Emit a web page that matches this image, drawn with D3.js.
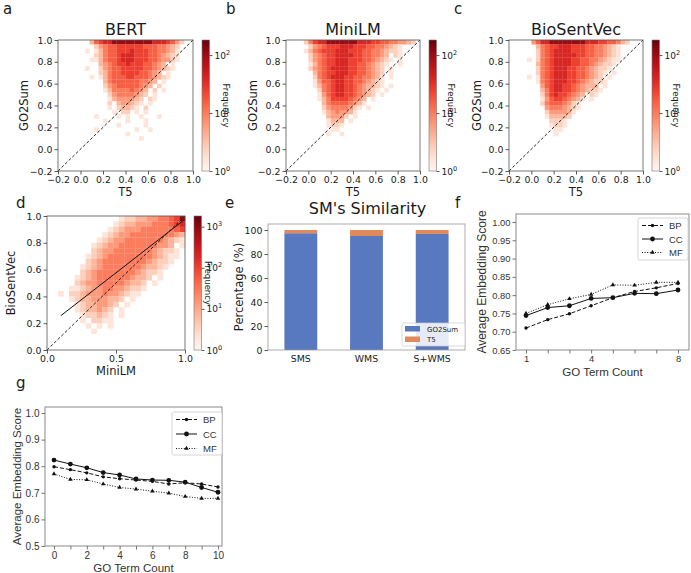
<!DOCTYPE html>
<html>
<head>
<meta charset="utf-8">
<script src="https://cdn.jsdelivr.net/npm/d3@7"></script>
<style>
  body { margin: 0; background: #fff; }
  text { font-family: "DejaVu Sans", sans-serif; fill: #1a1a1a; }
  .arial text, text.arial { font-family: "Liberation Sans", Arial, sans-serif; fill: #333; }
</style>
</head>
<body>
<svg id="fig" width="691" height="573"></svg>
<script>
// ---- data ----
// 2D histogram levels (0-9, log scale of count), rows from top (y=1.0) down, bins of 0.04
const bertRows = [
  ".......367889999999998887642..",
  "........2456677777766655432...",
  "......1.1356677787776655431...",
  "........2356678887776654321...",
  ".......11356678887776654421...",
  ".........345677877766543.1....",
  "......1..24566777776654321....",
  ".........23566777766543.1.....",
  ".......1.1356667766654321.....",
  "..........356666665543.1......",
  "..........24566666543.2.......",
  "..........1355556543.2.1......",
  "...........245555432.1........",
  "...........13444432.21........",
  "...........2.344321.1.........",
  "...........1.23321.2..........",
  "............1.22.1.1..........",
  "........1....1.1..1...1.......",
  "..........1....1...1..........",
  ".............1.....1..........",
  "........1........1..1.........",
  "...............1..............",
  "..................1..........."
];
const miniRows = [
  "....2578899999998887766554432.",
  ".....245677788877766554321....",
  "....1356777888777665543221....",
  ".....245677888877665543.21....",
  ".....2456778887776654321.1....",
  ".....135677888776654321..1....",
  ".....24567888877665432.1......",
  "......3567788877665432.1......",
  "......2567888776655431.1......",
  "......1466788776654321........",
  "......1356788776543321.1......",
  ".......25678877654321.1.......",
  ".......1467887765432.1........",
  ".......13577776543.1..........",
  "........3566665431............",
  "........245555421.1...........",
  "........13454431..............",
  ".........34442.1..............",
  ".........1333.1...............",
  ".........1221.................",
  "..........11..................",
  ".........1..1................."
];
const bioRows = [
  ".....4688999999998887766532...",
  "......3567788877766554321.....",
  "......2567888877766554321.....",
  "......2567888887766554321.....",
  "....1.2567888877665543211.....",
  "......356788887766543221......",
  "......25678887766543221.......",
  "......2567888776654321.1......",
  "....1.156788877665432.1.......",
  "......1567888776543221........",
  ".......4678877654333.1........",
  ".......35788776543221.........",
  ".......2578776543.21..........",
  ".......1467765431.1...........",
  ".......256665421..............",
  "........45554321..............",
  "........2444431...............",
  "........133332................",
  ".........2221.................",
  ".........1221.................",
  "..........11..................",
  "..........1..................."
];
const simRows = [
  ".............122334455679",
  "............1233444555678",
  "...........12344455555567",
  "..........123445555555543",
  ".........1234455555554321",
  "........123445555555443.1",
  "........2344555555543221.",
  ".......12345555555543211.",
  ".......2345555555543221..",
  "......1234555555543321...",
  "......234555555543221....",
  ".....12345555554332.1....",
  ".....2344555554332.1.....",
  "....11234455443221.......",
  "..1.2234445443211........",
  "....1233444332.1.........",
  ".....12334432.1..........",
  ".....1233432.1...........",
  "......122321.1...........",
  "......1.2211.............",
  ".......1.1.1.............",
  "........1................"
];
const heatTicks = [-0.2, 0.0, 0.2, 0.4, 0.6, 0.8, 1.0];
const simTicksX = [0.0, 0.5, 1.0];
const simTicksY = [0.0, 0.2, 0.4, 0.6, 0.8, 1.0];
const diagAC = [-0.2, 1.0];
const diagD = [0.0, 1.0];
const regX = [0.10, 1.00];
const regY = [0.256, 0.976];

const smCats = ["SMS", "WMS", "S+WMS"];
const go2sumPct = [97.3, 95.0, 96.7];
const t5Pct = [2.7, 5.0, 3.3];
const pctTicks = [0, 20, 40, 60, 80, 100];

const fCount = [1, 2, 3, 4, 5, 6, 7, 8];
const fBP = [0.710, 0.733, 0.749, 0.771, 0.793, 0.810, 0.820, 0.832];
const fCC = [0.744, 0.766, 0.771, 0.791, 0.793, 0.805, 0.804, 0.814];
const fMF = [0.750, 0.774, 0.790, 0.802, 0.828, 0.827, 0.835, 0.835];
const fTicksY = [0.65, 0.70, 0.75, 0.80, 0.85, 0.90, 0.95, 1.00];

const gCount = [0, 1, 2, 3, 4, 5, 6, 7, 8, 9, 10];
const gBP = [0.798, 0.787, 0.775, 0.760, 0.753, 0.748, 0.743, 0.733, 0.738, 0.733, 0.722];
const gCC = [0.823, 0.808, 0.794, 0.776, 0.767, 0.752, 0.748, 0.747, 0.740, 0.720, 0.702];
const gMF = [0.771, 0.750, 0.749, 0.733, 0.720, 0.714, 0.706, 0.699, 0.686, 0.679, 0.679];
const gTicksY = [0.5, 0.6, 0.7, 0.8, 0.9, 1.0];

const svg = d3.select("#fig");
svg.append("rect").attr("width", 691).attr("height", 573).attr("fill", "#fff");

const fmt1 = d3.format(".1f");
// level (1-9) -> position on the Reds colormap
const levelT = v => (v === 9 ? 0.9 : v * 0.088);

function styleAxis(g, size) {
  g.select(".domain").remove();
  g.selectAll("line").attr("stroke", "#333").attr("stroke-width", 0.8);
  g.selectAll("text").attr("font-size", size).attr("font-family", null).attr("fill", null);
  g.attr("font-family", null).attr("font-size", null);
}

function panelLabel(x, y, t) {
  svg.append("text").attr("x", x).attr("y", y).attr("font-size", 15).text(t);
}

// ---- heatmap panels ----
function heatPanel(o) {
  const g = svg.append("g");
  const x = d3.scaleLinear().domain(o.dom).range([o.left, o.right]);
  const y = d3.scaleLinear().domain(o.dom).range([o.bottom, o.top]);
  const cells = [];
  o.rows.forEach((row, j) => {
    [...row].forEach((ch, i) => { if (ch !== ".") cells.push({ i, j, v: +ch }); });
  });
  g.selectAll("rect.cell").data(cells).join("rect")
    .attr("class", "cell")
    .attr("x", d => x(o.dom[0] + d.i * o.bin))
    .attr("y", d => y(o.dom[1] - d.j * o.bin))
    .attr("width", d => x(o.dom[0] + (d.i + 1) * o.bin) - x(o.dom[0] + d.i * o.bin) + 0.2)
    .attr("height", d => y(o.dom[1] - (d.j + 1) * o.bin) - y(o.dom[1] - d.j * o.bin) + 0.2)
    .attr("fill", d => d3.interpolateReds(levelT(d.v)));

  // diagonal reference
  g.append("path")
    .attr("d", d3.line()(o.diag.map(v => [x(v), y(v)])))
    .attr("stroke", "#111").attr("stroke-width", 0.9).attr("stroke-dasharray", "3,2").attr("fill", "none");
  if (o.reg) {
    g.append("path")
      .attr("d", d3.line()(o.reg[0].map((v, k) => [x(v), y(o.reg[1][k])])))
      .attr("stroke", "#111").attr("stroke-width", 1).attr("fill", "none");
  }

  g.append("rect").attr("x", o.left).attr("y", o.top)
    .attr("width", o.right - o.left).attr("height", o.bottom - o.top)
    .attr("fill", "none").attr("stroke", "#555").attr("stroke-width", 0.8);

  const xa = g.append("g").attr("transform", `translate(0,${o.bottom})`)
    .call(d3.axisBottom(x).tickValues(o.xt).tickSize(3.5).tickPadding(1.5).tickFormat(fmt1));
  styleAxis(xa, 9.4);
  const ya = g.append("g").attr("transform", `translate(${o.left},0)`)
    .call(d3.axisLeft(y).tickValues(o.yt).tickSize(3.5).tickPadding(2).tickFormat(fmt1));
  styleAxis(ya, 9.4);

  if (o.title) {
    g.append("text").attr("x", (o.left + o.right) / 2).attr("y", o.top - 5)
      .attr("text-anchor", "middle").attr("font-size", 16).text(o.title);
  }
  g.append("text").attr("x", (o.left + o.right) / 2).attr("y", o.bottom + 25)
    .attr("text-anchor", "middle").attr("font-size", 11.5).text(o.xlabel);
  g.append("text").attr("transform", `translate(${o.ylx},${(o.top + o.bottom) / 2}) rotate(-90)`)
    .attr("text-anchor", "middle").attr("font-size", 11.5).text(o.ylabel);

  // colorbar
  const cbx = o.right + 9, cbw = 7.5;
  const id = "grad" + o.key;
  const grad = svg.append("defs").append("linearGradient").attr("id", id)
    .attr("x1", 0).attr("y1", 1).attr("x2", 0).attr("y2", 0);
  d3.range(0, 1.0001, 0.1).forEach(t => grad.append("stop").attr("offset", t).attr("stop-color", d3.interpolateReds(t)));
  g.append("rect").attr("x", cbx).attr("y", o.top).attr("width", cbw).attr("height", o.bottom - o.top)
    .attr("fill", `url(#${id})`).attr("stroke", "#777").attr("stroke-width", 0.6);
  const cy = d3.scaleLog().domain([1, Math.pow(10, o.vmaxLog)]).range([o.bottom, o.top]);
  const ca = g.append("g").attr("transform", `translate(${cbx + cbw},0)`)
    .call(d3.axisRight(cy).tickValues(o.cbTicks).tickSize(3).tickPadding(2).tickFormat(() => ""));
  styleAxis(ca, 9);
  o.cbTicks.forEach(v => {
    const t = g.append("text").attr("x", cbx + cbw + 5).attr("y", cy(v) + 3.5).attr("font-size", 9).text("10");
    t.append("tspan").attr("dy", -4).attr("font-size", 6.5).text(Math.round(Math.log10(v)));
  });
  g.append("text").attr("transform", `translate(${o.cblx},${(o.top + o.bottom) / 2}) rotate(90)`)
    .attr("text-anchor", "middle").attr("font-size", 8.5).text("Frequency");
}

const acCommon = { dom: [-0.2, 1.0], bin: 0.04, top: 40, bottom: 171, xt: heatTicks, yt: heatTicks,
  diag: diagAC, vmaxLog: 2.26, cbTicks: [1, 10, 100], xlabel: "T5", ylabel: "GO2Sum" };
heatPanel({ ...acCommon, key: "a", rows: bertRows, left: 58, right: 193, title: "BERT", ylx: 28, cblx: 223 });
heatPanel({ ...acCommon, key: "b", rows: miniRows, left: 286, right: 420, title: "MiniLM", ylx: 257, cblx: 448 });
heatPanel({ ...acCommon, key: "c", rows: bioRows, left: 509, right: 643, title: "BioSentVec", ylx: 481, cblx: 673 });
heatPanel({ key: "d", rows: simRows, dom: [0, 1], bin: 0.04, left: 47, right: 185, top: 216, bottom: 350,
  xt: simTicksX, yt: simTicksY, diag: diagD, reg: [regX, regY], vmaxLog: 3.26, cbTicks: [1, 10, 100, 1000],
  xlabel: "MiniLM", ylabel: "BioSentVec", ylx: 15, cblx: 205 });

// ---- panel e: stacked bars ----
(function () {
  const left = 268, right = 465, top = 224, bottom = 350;
  const g = svg.append("g");
  const x = d3.scaleBand().domain(smCats).range([left, right]).paddingInner(0.5).paddingOuter(0.25);
  const y = d3.scaleLinear().domain([0, 105]).range([bottom, top]);
  const blue = "#5878c0", orange = "#e08a5c";
  g.selectAll("rect.go").data(smCats).join("rect")
    .attr("x", d => x(d)).attr("width", x.bandwidth())
    .attr("y", (d, i) => y(go2sumPct[i])).attr("height", (d, i) => y(0) - y(go2sumPct[i]))
    .attr("fill", blue);
  g.selectAll("rect.t5").data(smCats).join("rect")
    .attr("x", d => x(d)).attr("width", x.bandwidth())
    .attr("y", (d, i) => y(go2sumPct[i] + t5Pct[i])).attr("height", (d, i) => y(go2sumPct[i]) - y(go2sumPct[i] + t5Pct[i]))
    .attr("fill", orange);
  g.append("rect").attr("x", left).attr("y", top).attr("width", right - left).attr("height", bottom - top)
    .attr("fill", "none").attr("stroke", "#9a9a9a").attr("stroke-width", 0.8);
  const xa = g.append("g").attr("transform", `translate(0,${bottom})`)
    .call(d3.axisBottom(x).tickSize(0).tickPadding(5));
  styleAxis(xa, 9.4);
  const ya = g.append("g").attr("transform", `translate(${left},0)`)
    .call(d3.axisLeft(y).tickValues(pctTicks).tickSize(3.5).tickPadding(2));
  styleAxis(ya, 9.4);
  g.append("text").attr("x", (left + right) / 2 + 1).attr("y", 214).attr("text-anchor", "middle")
    .attr("font-size", 16).text("SM's Similarity");
  g.append("text").attr("transform", `translate(243,${(top + bottom) / 2}) rotate(-90)`)
    .attr("text-anchor", "middle").attr("font-size", 11.5).text("Percentage (%)");
  // legend
  g.append("rect").attr("x", 402).attr("y", 323).attr("width", 63).attr("height", 23)
    .attr("fill", "#fff").attr("fill-opacity", 0.85).attr("stroke", "#ccc").attr("stroke-width", 0.7).attr("rx", 1.5);
  [["GO2Sum", blue], ["T5", orange]].forEach((e, k) => {
    g.append("rect").attr("x", 405).attr("y", 326 + k * 10.5).attr("width", 15).attr("height", 5.5).attr("fill", e[1]);
    g.append("text").attr("x", 427).attr("y", 331.5 + k * 10.5).attr("font-size", 7).text(e[0]);
  });
})();

// ---- line panels f & g ----
function linePanel(o) {
  const g = svg.append("g").attr("class", "arial");
  const x = d3.scaleLinear().domain(o.xd).range(o.xr);
  const y = d3.scaleLinear().domain(o.yd).range(o.yr);
  g.append("rect").attr("x", o.left).attr("y", o.top).attr("width", o.right - o.left).attr("height", o.bottom - o.top)
    .attr("fill", "none").attr("stroke", "#8a8a8a").attr("stroke-width", 1);
  const xa = g.append("g").attr("transform", `translate(0,${o.bottom})`)
    .call(d3.axisBottom(x).tickValues(o.counts).tickSize(3.5).tickPadding(2)
      .tickFormat(d => o.xLabelled.includes(d) ? d : ""));
  styleAxis(xa, o.tickFont);
  const ya = g.append("g").attr("transform", `translate(${o.left},0)`)
    .call(d3.axisLeft(y).tickValues(o.yt).tickSize(3.5).tickPadding(2).tickFormat(d3.format(o.yfmt)));
  styleAxis(ya, o.tickFont);
  g.selectAll("line").attr("stroke", "#555");

  const series = [
    { name: "BP", vals: o.bp, dash: "4,2", r: 1.7, sym: d3.symbolCircle },
    { name: "CC", vals: o.cc, dash: null, r: 2.4, sym: d3.symbolCircle },
    { name: "MF", vals: o.mf, dash: "1,1.6", r: 1.7, sym: d3.symbolTriangle }
  ];
  const symSize = s => s.sym === d3.symbolTriangle ? 9 : Math.PI * s.r * s.r;
  series.forEach(s => {
    g.append("path").attr("d", d3.line()(o.counts.map((c, k) => [x(c), y(s.vals[k])])))
      .attr("fill", "none").attr("stroke", "#111").attr("stroke-width", 1)
      .attr("stroke-dasharray", s.dash);
    g.selectAll(null).data(o.counts).join("path")
      .attr("transform", (c, k) => `translate(${x(c)},${y(s.vals[k])})`)
      .attr("d", d3.symbol(s.sym, symSize(s))).attr("fill", "#111");
  });

  // legend
  const L = o.legend;
  g.append("rect").attr("x", L.x).attr("y", L.y).attr("width", L.w).attr("height", L.h)
    .attr("fill", "#fff").attr("stroke", "#ccc").attr("stroke-width", 0.8).attr("rx", 2);
  series.forEach((s, k) => {
    const ly = L.y + 7.5 + k * L.step;
    g.append("line").attr("x1", L.x + 4).attr("x2", L.x + 25).attr("y1", ly).attr("y2", ly)
      .attr("stroke", "#111").attr("stroke-width", 1).attr("stroke-dasharray", s.dash);
    g.append("path").attr("transform", `translate(${L.x + 14.5},${ly})`)
      .attr("d", d3.symbol(s.sym, symSize(s))).attr("fill", "#111");
    g.append("text").attr("x", L.x + 31).attr("y", ly + 3.5).attr("font-size", 9.5).text(s.name);
  });

  g.append("text").attr("x", (o.left + o.right) / 2).attr("y", o.bottom + 26)
    .attr("text-anchor", "middle").attr("font-size", o.xlFont).text("GO Term Count");
  g.append("text").attr("transform", `translate(${o.ylx},${(o.top + o.bottom) / 2}) rotate(-90)`)
    .attr("text-anchor", "middle").attr("font-size", o.ylFont).text("Average Embedding Score");
}

linePanel({ left: 516, right: 689, top: 214, bottom: 350, xd: [1, 8], xr: [526, 678], yd: [0.65, 1.0], yr: [350, 222],
  counts: fCount, xLabelled: [1, 4, 8], yt: fTicksY, yfmt: ".2f", bp: fBP, cc: fCC, mf: fMF,
  legend: { x: 638, y: 218, w: 50, h: 42, step: 13.5 }, tickFont: 9.4, xlFont: 11.5, ylFont: 12, ylx: 486 });
linePanel({ left: 45, right: 222, top: 407, bottom: 546, xd: [0, 10], xr: [54, 218], yd: [0.5, 1.0], yr: [546, 413],
  counts: gCount, xLabelled: [0, 2, 4, 6, 8, 10], yt: gTicksY, yfmt: ".1f", bp: gBP, cc: gCC, mf: gMF,
  legend: { x: 172, y: 412, w: 50, h: 43, step: 14.5 }, tickFont: 10, xlFont: 11.5, ylFont: 11.5, ylx: 21 });

// panel letters
panelLabel(3, 14, "a");
panelLabel(226, 14, "b");
panelLabel(454, 14, "c");
panelLabel(16, 208, "d");
panelLabel(225, 208, "e");
panelLabel(455, 208, "f");
panelLabel(16, 388, "g");
</script>
</body>
</html>
